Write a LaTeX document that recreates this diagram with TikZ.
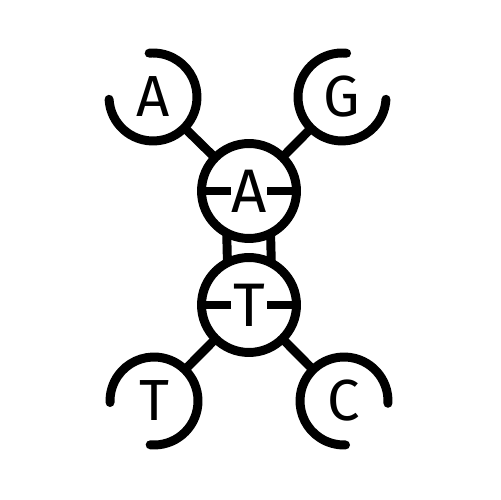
\documentclass[tikz,border=0pt]{standalone}
\usepackage{fontspec}
\setmainfont{Fira Sans}
\begin{document}
\begin{tikzpicture}[x=0.02cm,y=0.02cm,
  ln/.style={line width=5.1pt},
  hub/.style={circle,draw,ln,inner sep=0pt,outer sep=0pt,minimum size=1.9cm,
    font=\fontsize{35}{35}\selectfont},
  leaf/.style={circle,inner sep=0pt,outer sep=0pt,minimum size=1.76cm,
    font=\fontsize{33}{33}\selectfont},
  rim/.style={ln,line cap=round}]
\useasboundingbox (0,0) rectangle (500,500);
% central bases
\node[hub] (cA) at (249,309) {A};
\node[hub] (cT) at (249,195) {T};
% outer bases
\node[leaf] (tl) at (153,403) {A};
\node[leaf] (tr) at (342,403) {G};
\node[leaf] (bl) at (154,99) {T};
\node[leaf] (br) at (344,99) {C};
% open rims
\draw[rim] (tl.183) arc[start angle=183,end angle=455,radius=0.88cm];
\draw[rim] (tr.84) arc[start angle=84,end angle=357,radius=0.88cm];
\draw[rim] (bl.-95) arc[start angle=-95,end angle=182,radius=0.88cm];
\draw[rim] (br.-3) arc[start angle=-3,end angle=272,radius=0.88cm];
% connectors
\draw[ln] (tl) -- (cA);
\draw[ln] (tr) -- (cA);
\draw[ln] (bl) -- (cT);
\draw[ln] (br) -- (cT);
% ladder bars between hubs
\draw[ln] (cA.242.4) -- (cT.117.6);
\draw[ln] (cA.297.6) -- (cT.62.4);
% dashes inside hubs
\draw[ln] (cA.west) -- ++(29.5,0);
\draw[ln] (cA.east) -- ++(-29.5,0);
\draw[ln] (cT.west) -- ++(29.5,0);
\draw[ln] (cT.east) -- ++(-29.5,0);
\end{tikzpicture}
\end{document}
